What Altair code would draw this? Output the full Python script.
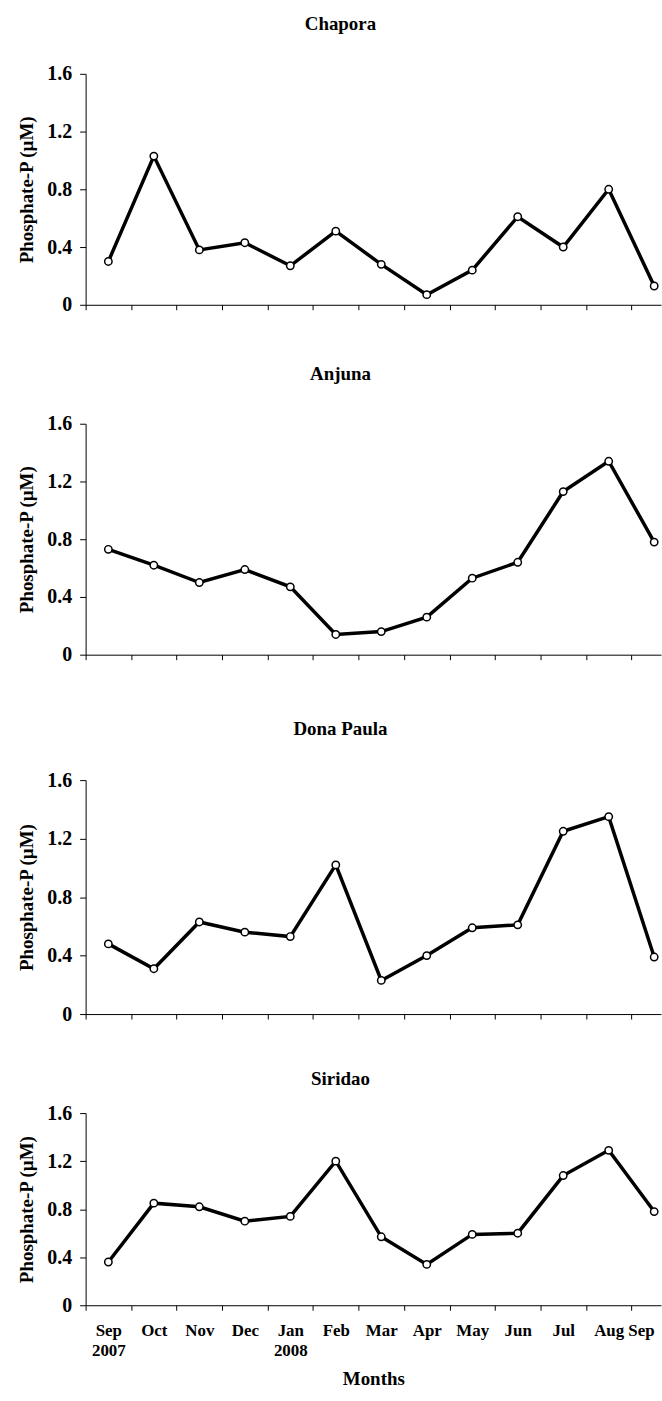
import altair as alt
import pandas as pd

months = ["Sep", "Oct", "Nov", "Dec", "Jan", "Feb", "Mar", "Apr", "May", "Jun", "Jul", "Aug", "Sep"]
years = ["2007", "", "", "", "2008", "", "", "", "", "", "", "", ""]

stations = ["Chapora", "Anjuna", "Dona Paula", "Siridao"]
chapora = [0.30, 1.03, 0.38, 0.43, 0.27, 0.51, 0.28, 0.07, 0.24, 0.61, 0.40, 0.80, 0.13]
anjuna = [0.73, 0.62, 0.50, 0.59, 0.47, 0.14, 0.16, 0.26, 0.53, 0.64, 1.13, 1.34, 0.78]
dona_paula = [0.48, 0.31, 0.63, 0.56, 0.53, 1.02, 0.23, 0.40, 0.59, 0.61, 1.25, 1.35, 0.39]
siridao = [0.36, 0.85, 0.82, 0.70, 0.74, 1.20, 0.57, 0.34, 0.59, 0.60, 1.08, 1.29, 0.78]
series = [chapora, anjuna, dona_paula, siridao]

y_ticks = [0, 0.4, 0.8, 1.2, 1.6]
FONT = "Liberation Serif"

heights = [232, 232, 235, 193]
title_offsets = [30, 29.5, 31.5, 14.5]

# label lookup expression for the bottom axis
label_items = []
for m, yv in zip(months, years):
    if yv:
        label_items.append("['" + m + "','" + yv + "']")
    else:
        label_items.append("'" + m + "'")
label_js = "[" + ",".join(label_items) + "]"
last_idx = len(months) - 1


def panel(name, vals, h, off, bottom):
    df = pd.DataFrame({"idx": list(range(len(months))), "month": months, "value": vals})
    if bottom:
        xaxis = alt.Axis(
            values=[i / 2 for i in range(-1, 25)],
            labelExpr="datum.value % 1 === 0 ? " + label_js + "[datum.value] : ''",
            tickOpacity={"condition": {"test": "datum.value % 1 !== 0", "value": 1}, "value": 0},
            labelAlign={"condition": {"test": "datum.value == %d" % last_idx, "value": "right"},
                        "value": "center"},
            tickSize=5, labelPadding=12, labelFontSize=17, labelLineHeight=20,
            labelBaseline="top", labelOverlap=False, labelBound=False, labelFlush=False,
            title="Months", titleFontSize=19, titlePadding=12,
            grid=False, domainColor="black", tickColor="black",
        )
    else:
        xaxis = alt.Axis(
            values=[i / 2 for i in range(-1, 25, 2)],
            labels=False, title=None, tickSize=5,
            grid=False, domainColor="black", tickColor="black",
        )
    x = alt.X("idx:Q", scale=alt.Scale(domain=[-0.5, 12.15], nice=False, zero=False), axis=xaxis)
    y = alt.Y(
        "value:Q",
        scale=alt.Scale(domain=[0, 1.6], nice=False),
        axis=alt.Axis(
            values=y_ticks,
            labelExpr="datum.value == 0 ? '0' : format(datum.value, '.1f')",
            title="Phosphate-P (µM)", titleFontSize=19, titlePadding=10,
            tickSize=6, labelPadding=8, labelFontSize=20,
            grid=False, domainColor="black", tickColor="black",
        ),
    )
    base = alt.Chart(df).encode(x=x, y=y)
    line = base.mark_line(color="black", strokeWidth=3.5)
    pts = base.mark_point(shape="circle", filled=True, fill="white", stroke="black",
                          strokeWidth=1.5, size=55, opacity=1)
    return alt.layer(line, pts).properties(
        width=578, height=h,
        title=alt.TitleParams(name, font=FONT, fontSize=19, fontWeight="bold", color="black",
                              anchor="middle", frame="group", dx=-33, offset=off),
    )


p = [panel(n, v, h, o, i == 3) for i, (n, v, h, o) in enumerate(zip(stations, series, heights, title_offsets))]

top_pair = alt.vconcat(p[0], p[1], spacing=50.5)
bottom_pair = alt.vconcat(p[2], p[3], spacing=45.5)

chart = alt.vconcat(top_pair, bottom_pair, spacing=54.5).properties(
    padding={"left": 18, "top": 12, "right": 0, "bottom": 0}
).configure_view(stroke=None).configure_axis(
    labelFont=FONT, labelFontWeight="bold", labelColor="black",
    titleFont=FONT, titleFontWeight="bold", titleColor="black",
    domainWidth=1, tickWidth=1,
)

chart.save("out.html", embed_options={"renderer": "svg", "actions": False})
